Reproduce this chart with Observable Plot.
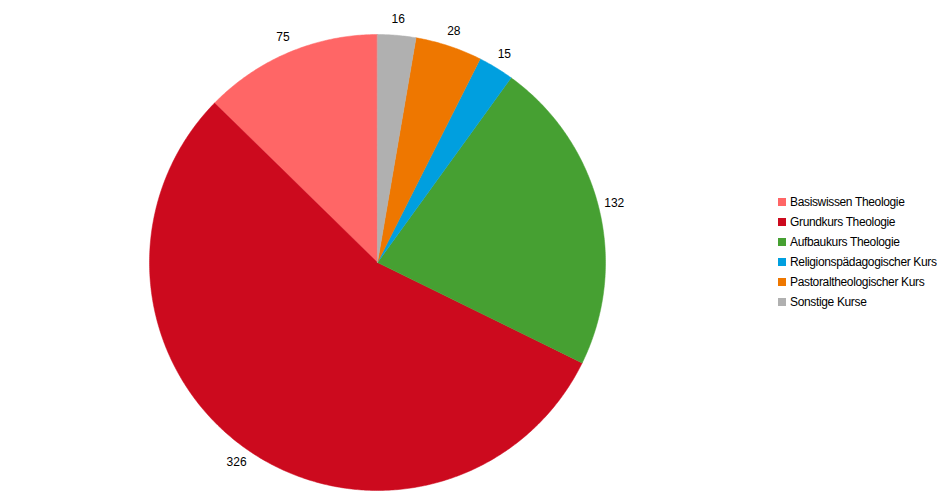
<!DOCTYPE html>
<html>
<head>
<meta charset="utf-8">
<script src="https://cdn.jsdelivr.net/npm/d3@7"></script>
<script src="https://cdn.jsdelivr.net/npm/@observablehq/plot@0.6"></script>
<style>
  html, body { margin: 0; padding: 0; background: #fff; }
  #wrap { position: relative; width: 950px; height: 504px; font-family: "Liberation Sans", Arial, sans-serif; }
  #legend { position: absolute; left: 778px; top: 192px; font-size: 12px; color: #000; }
  .row { display: flex; align-items: center; height: 20px; letter-spacing: -0.35px; }
  .sw { width: 8px; height: 8px; margin-right: 4px; }
</style>
</head>
<body>
<div id="wrap"></div>
<script>
const categories = ["Basiswissen Theologie", "Grundkurs Theologie", "Aufbaukurs Theologie", "Religionspädagogischer Kurs", "Pastoraltheologischer Kurs", "Sonstige Kurse"];
const values = [75, 326, 132, 15, 28, 16];
const colors = ["#FF6666", "#CC0A1E", "#46A032", "#009FDF", "#EE7700", "#B0B0B0"];

const data = categories.map((name, i) => ({name, value: values[i]}));
const arcs = d3.pie().sort(null).value(d => d.value).startAngle(0).endAngle(-2 * Math.PI)(data);

// polygon vertices for each slice (unit circle, y up)
const pts = [];
for (const a of arcs) {
  const s = a.startAngle, e = a.endAngle;
  const n = Math.max(2, Math.ceil(Math.abs(e - s) / (Math.PI / 360)));
  pts.push({name: a.data.name, x: 0, y: 0});
  for (let k = 0; k <= n; k++) {
    const t = s + (e - s) * k / n;
    pts.push({name: a.data.name, x: Math.sin(t), y: Math.cos(t)});
  }
}
const labelR = 1.07;
const labels = arcs.map(a => {
  const m = (a.startAngle + a.endAngle) / 2;
  return {name: a.data.name, text: String(a.data.value), x: labelR * Math.sin(m), y: labelR * Math.cos(m)};
});

const chart = Plot.plot({
  width: 950,
  height: 504,
  margin: 0,
  style: {fontFamily: "Liberation Sans, Arial, sans-serif", fontSize: "12px", background: "#fff"},
  x: {domain: [-1, 1], range: [149, 605], axis: null},
  y: {domain: [-1, 1], range: [490, 34], axis: null},
  color: {domain: categories, range: colors},
  marks: [
    Plot.line(pts, {x: "x", y: "y", z: "name", fill: "name", stroke: "name", strokeWidth: 0.5, curve: "linear-closed"}),
    Plot.text(labels, {x: "x", y: "y", text: "text", fill: "#000", fontSize: 12})
  ]
});
const wrap = document.getElementById("wrap");
wrap.appendChild(chart);

const legend = document.createElement("div");
legend.id = "legend";
const color = chart.scale("color");
categories.forEach(c => {
  const row = document.createElement("div");
  row.className = "row";
  const sw = document.createElement("span");
  sw.className = "sw";
  sw.style.background = color.apply(c);
  const tx = document.createElement("span");
  tx.textContent = c;
  row.appendChild(sw);
  row.appendChild(tx);
  legend.appendChild(row);
});
wrap.appendChild(legend);
</script>
</body>
</html>
